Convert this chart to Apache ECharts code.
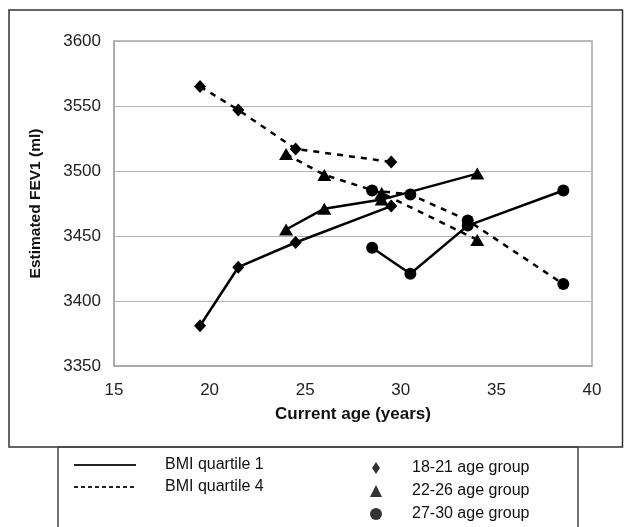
<!DOCTYPE html>
<html>
<head>
<meta charset="utf-8">
<script src="https://cdn.jsdelivr.net/npm/echarts@6/dist/echarts.min.js"></script>
<style>
  html, body { margin: 0; padding: 0; background: #fff; }
  #chart { width: 624px; height: 527px; }
</style>
</head>
<body>
<div id="chart"></div>
<script>
// ---- Data ----
const xTicks = [15, 20, 25, 30, 35, 40];
const yTicks = [3350, 3400, 3450, 3500, 3550, 3600];

// 18-21 age group (diamonds)
const age1821 = [19.5, 21.5, 24.5, 29.5];
const fev1821_Q1 = [3381, 3426, 3445, 3473];
const fev1821_Q4 = [3565, 3547, 3517, 3507];

// 22-26 age group (triangles)
const age2226 = [24, 26, 29, 34];
const fev2226_Q1 = [3455, 3471, 3478, 3498];
const fev2226_Q4 = [3513, 3497, 3483, 3447];

// 27-30 age group (circles)
const age2730 = [28.5, 30.5, 33.5, 38.5];
const fev2730_Q1 = [3441, 3421, 3458, 3485];
const fev2730_Q4 = [3485, 3482, 3462, 3413];

const lineNames = ['BMI quartile 1', 'BMI quartile 4'];
const groupNames = ['18-21 age group', '22-26 age group', '27-30 age group'];

const zip = (xs, ys) => xs.map((x, i) => [x, ys[i]]);

const FONT = '"Liberation Sans", Arial, sans-serif';
const solid = { color: '#000', width: 2.5, type: 'solid' };
const dashed = { color: '#000', width: 2.5, type: [6, 6] };

function dataSeries(name, xs, ys, symbol, size, ls) {
  return {
    name: name, type: 'line', data: zip(xs, ys),
    symbol: symbol, symbolSize: size, showSymbol: true,
    lineStyle: ls, itemStyle: { color: '#000' },
    z: 3, animation: false, legendHoverLink: false
  };
}

const series = [
  dataSeries('q1_1821', age1821, fev1821_Q1, 'diamond', [12, 13], solid),
  dataSeries('q4_1821', age1821, fev1821_Q4, 'diamond', [12, 13], dashed),
  dataSeries('q1_2226', age2226, fev2226_Q1, 'triangle', [14, 12], solid),
  dataSeries('q4_2226', age2226, fev2226_Q4, 'triangle', [14, 12], dashed),
  dataSeries('q1_2730', age2730, fev2730_Q1, 'circle', 12, solid),
  dataSeries('q4_2730', age2730, fev2730_Q4, 'circle', 12, dashed),
  // legend-only series
  { name: lineNames[0], type: 'line', data: [], symbol: 'none', showSymbol: false,
    lineStyle: { color: '#222', width: 1.2, type: 'solid' }, itemStyle: { color: '#222' } },
  { name: lineNames[1], type: 'line', data: [], symbol: 'none', showSymbol: false,
    lineStyle: { color: '#222', width: 1, type: [4, 3] }, itemStyle: { color: '#222' } },
  { name: groupNames[0], type: 'scatter', data: [], symbol: 'diamond', itemStyle: { color: '#000' } },
  { name: groupNames[1], type: 'scatter', data: [], symbol: 'triangle', itemStyle: { color: '#000' } },
  { name: groupNames[2], type: 'scatter', data: [], symbol: 'circle', itemStyle: { color: '#000' } }
];

const chart = echarts.init(document.getElementById('chart'), null, { renderer: 'canvas' });
chart.setOption({
  animation: false,
  backgroundColor: '#fff',
  textStyle: { fontFamily: FONT },
  grid: { left: 114, right: 32, top: 41, bottom: 161, show: true,
          borderColor: '#a6a6a6', borderWidth: 1.5, backgroundColor: 'transparent' },
  xAxis: {
    type: 'value', min: xTicks[0], max: xTicks[xTicks.length - 1], interval: 5,
    name: 'Current age (years)', nameLocation: 'middle', nameGap: 40,
    nameTextStyle: { fontFamily: FONT, fontSize: 17, fontWeight: 'bold', color: '#111' },
    axisLine: { lineStyle: { color: '#a6a6a6', width: 1.5 } },
    axisTick: { show: false },
    axisLabel: { fontFamily: FONT, fontSize: 17, color: '#222', margin: 16,
                 formatter: v => String(v) },
    splitLine: { show: false }
  },
  yAxis: {
    type: 'value', min: yTicks[0], max: yTicks[yTicks.length - 1], interval: 50,
    name: 'Estimated FEV1 (ml)', nameLocation: 'middle', nameGap: 70, nameRotate: 90,
    nameTextStyle: { fontFamily: FONT, fontSize: 15.5, fontWeight: 'bold', color: '#111' },
    axisLine: { show: true, lineStyle: { color: '#a6a6a6', width: 1.5 } },
    axisTick: { show: false },
    axisLabel: { fontFamily: FONT, fontSize: 17, color: '#222', margin: 13,
                 formatter: v => String(v) },
    splitLine: { show: true, lineStyle: { color: '#b4b4b4', width: 1 } }
  },
  legend: [
    {
      data: lineNames, orient: 'vertical', left: 73, top: 457, height: 120, padding: 0,
      itemWidth: 62, itemHeight: 13, itemGap: 6, selectedMode: false,
      itemStyle: { opacity: 0 },
      textStyle: { fontFamily: FONT, fontSize: 16, color: '#111', lineHeight: 14, padding: [0, 0, 0, 24] }
    },
    {
      data: [
        { name: groupNames[0], icon: 'path://M4,0L8,6L4,12L0,6Z' },
        { name: groupNames[1], icon: 'triangle' },
        { name: groupNames[2], icon: 'circle' }
      ],
      orient: 'vertical', left: 370, top: 460, height: 120, padding: 0,
      itemWidth: 12, itemHeight: 12, itemGap: 7, selectedMode: false,
      textStyle: { fontFamily: FONT, fontSize: 16, color: '#111', lineHeight: 14, padding: [0, 0, 0, 25] }
    }
  ],
  graphic: [
    { type: 'rect', z: -1, silent: true,
      shape: { x: 9, y: 10, width: 613.5, height: 437 },
      style: { fill: 'none', stroke: '#333', lineWidth: 1.5 } },
    { type: 'rect', z: -1, silent: true,
      shape: { x: 58, y: 447, width: 520, height: 120 },
      style: { fill: 'none', stroke: '#444', lineWidth: 1.5 } }
  ],
  series: series
});
</script>
</body>
</html>
